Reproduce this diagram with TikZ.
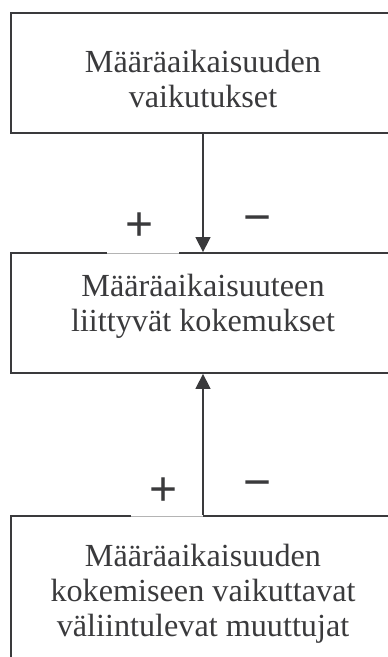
\documentclass[tikz,border=0pt]{standalone}
\usepackage{fontspec}
\setmainfont{Liberation Serif}
\newfontfamily\signfont{Liberation Sans}
\usetikzlibrary{arrows.meta}
\definecolor{ink}{HTML}{3A3A3C}
\definecolor{faint}{HTML}{B4B4B4}
\tikzset{
  box/.style={draw=ink, line width=1.8pt, minimum width=384pt, inner sep=0pt},
  label/.style={text=ink, align=center, font=\fontsize{32.2}{35}\selectfont, inner sep=0pt, anchor=base},
  sign/.style={text=ink, font=\signfont\fontsize{48}{48}\selectfont, inner sep=0pt, anchor=base},
  arrow/.style={draw=ink, line width=1.5pt, -{Triangle[width=15pt,length=15pt]}},
  gap/.style={draw=white, line width=2.4pt},
  thin/.style={draw=faint, line width=0.8pt}
}
\begin{document}
\begin{tikzpicture}[x=1pt,y=1pt]
\useasboundingbox (0,0) rectangle (388,-657);
\clip (0,0) rectangle (388,-657);
\node[box, minimum height=120pt] (top) at (203,-73) {};
\node[box, minimum height=120pt] (mid) at (203,-313) {};
\node[box, minimum height=160pt] (bot) at (203,-596) {};
\node[label] (t1) at (203,-72) {Määräaikaisuuden};
\node[label] (t2) at (203,-107) {vaikutukset};
\node[label] (m1) at (203,-296) {Määräaikaisuuteen};
\node[label] (m2) at (203,-331) {liittyvät kokemukset};
\node[label] (b1) at (203,-566) {Määräaikaisuuden};
\node[label] (b2) at (203,-601) {kokemiseen vaikuttavat};
\node[label] (b3) at (203,-636) {väliintulevat muuttujat};
\coordinate (g1a) at (107,-253);
\coordinate (g1b) at (179,-253);
\coordinate (g2a) at (131,-516);
\coordinate (g2b) at (203,-516);
\draw[gap] (g1a) -- (g1b);
\draw[thin] (g1a) -- (g1b);
\draw[gap] (g2a) -- (g2b);
\draw[thin] (g2a) -- (g2b);
\draw[arrow] (top.south) -- (mid.north);
\draw[arrow] (bot.north) -- (mid.south);
\node[sign] (p1) at (140,-240) {+};
\node[sign] (n1) at (258,-233) {−};
\node[sign] (p2) at (164,-505) {+};
\node[sign] (n2) at (258,-498) {−};
\end{tikzpicture}
\end{document}
